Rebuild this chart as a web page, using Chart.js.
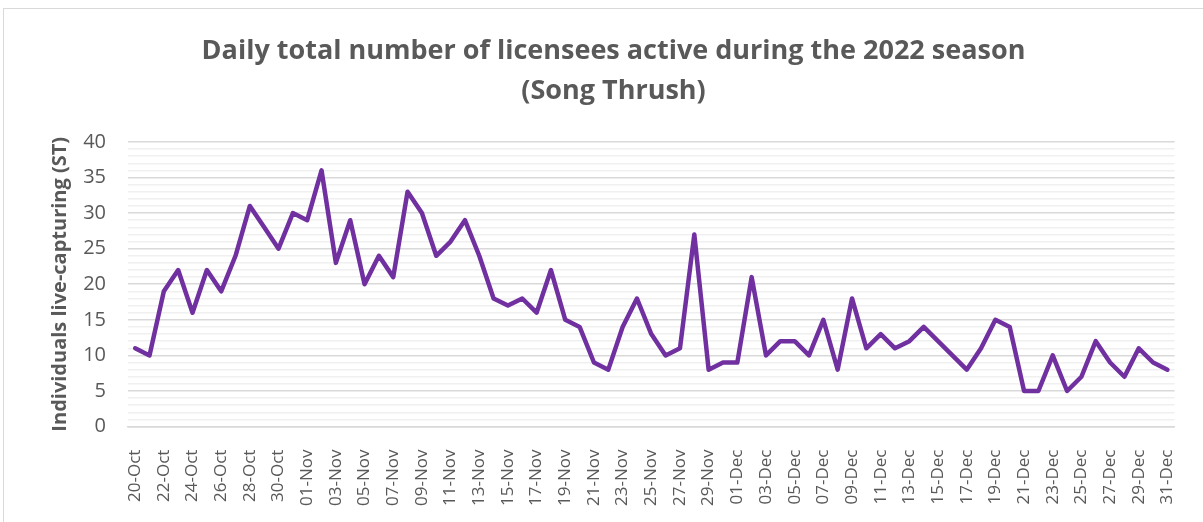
<!DOCTYPE html>
<html>
<head>
<meta charset="utf-8">
<script src="https://cdn.jsdelivr.net/npm/chart.js"></script>
<style>
  html, body { margin: 0; padding: 0; background: #fff; overflow: hidden; }
  #frame { position: absolute; left: 3px; top: 8px; width: 1230px; height: 560px; border: 1px solid #d9d9d9; }
  #wrap { position: absolute; left: 0; top: 0; width: 1203px; height: 522px; }
</style>
</head>
<body>
<div id="frame"></div>
<div id="wrap"><canvas id="thrushChart"></canvas></div>
<script>
// daily licensees live-capturing song thrush, 20 Oct - 31 Dec 2022
var dayLabels = [
  '20-Oct','21-Oct','22-Oct','23-Oct','24-Oct','25-Oct','26-Oct','27-Oct','28-Oct','29-Oct','30-Oct','31-Oct',
  '01-Nov','02-Nov','03-Nov','04-Nov','05-Nov','06-Nov','07-Nov','08-Nov','09-Nov','10-Nov',
  '11-Nov','12-Nov','13-Nov','14-Nov','15-Nov','16-Nov','17-Nov','18-Nov','19-Nov','20-Nov',
  '21-Nov','22-Nov','23-Nov','24-Nov','25-Nov','26-Nov','27-Nov','28-Nov','29-Nov','30-Nov',
  '01-Dec','02-Dec','03-Dec','04-Dec','05-Dec','06-Dec','07-Dec','08-Dec','09-Dec','10-Dec',
  '11-Dec','12-Dec','13-Dec','14-Dec','15-Dec','16-Dec','17-Dec','18-Dec','19-Dec','20-Dec',
  '21-Dec','22-Dec','23-Dec','24-Dec','25-Dec','26-Dec','27-Dec','28-Dec','29-Dec','30-Dec','31-Dec'
];
var octValues = [11, 10, 19, 22, 16, 22, 19, 24, 31, 28, 25, 30];
var novValues = [29, 36, 23, 29, 20, 24, 21, 33, 30, 24, 26, 29, 24, 18, 17, 18, 16, 22, 15, 14,
                 9, 8, 14, 18, 13, 10, 11, 27, 8, 9];
var decValues = [9, 21, 10, 12, 12, 10, 15, 8, 18, 11, 13, 11, 12, 14, 12, 10, 8, 11, 15, 14,
                 5, 5, 10, 5, 7, 12, 9, 7, 11, 9, 8];
var yTicks = [0, 5, 10, 15, 20, 25, 30, 35, 40];

var activeCounts = octValues.concat(novValues, decValues);
var txt = '#595959';

var ctx = document.getElementById('thrushChart').getContext('2d');
var thrushChart = new Chart(ctx, {
    type: 'line',
    data: {
        labels: dayLabels,
        datasets: [{
            data: activeCounts,
            borderColor: '#7030A0',
            borderWidth: 4.5,
            pointRadius: 0,
            borderJoinStyle: 'round',
            borderCapStyle: 'round',
            tension: 0,
            fill: false
        }]
    },
    options: {
        responsive: true,
        maintainAspectRatio: false,
        animation: false,
        layout: { padding: { left: 48, right: 24, top: 0, bottom: 1 } },
        plugins: {
            legend: { display: false },
            tooltip: { enabled: false },
            title: {
                display: true,
                text: ['Daily total number of licensees active during the 2022 season', '(Song Thrush)'],
                color: txt,
                font: { family: 'Open Sans', size: 27, weight: 'bold', lineHeight: 1.48 },
                padding: { top: 31, bottom: 31 }
            }
        },
        scales: {
            x: {
                offset: true,
                grid: { display: false },
                border: { display: true, color: '#d9d9d9', width: 1.5 },
                ticks: {
                    autoSkip: false,
                    maxRotation: 90,
                    minRotation: 90,
                    padding: 15,
                    color: txt,
                    font: { family: 'Open Sans', size: 17 },
                    callback: function(v, i) { return i % 2 === 0 ? dayLabels[i] : ''; }
                }
            },
            y: {
                min: 0,
                max: 40,
                border: { display: false },
                afterFit: function(scale) { scale.width = 80; },
                grid: {
                    drawTicks: false,
                    lineWidth: 1.5,
                    color: function(c) { return c.tick.value % 5 === 0 ? '#d9d9d9' : '#f0f0f0'; }
                },
                title: {
                    display: true,
                    text: 'Individuals live-capturing (ST)',
                    color: txt,
                    font: { family: 'Open Sans', size: 20, weight: 'bold' },
                    padding: 0
                },
                ticks: {
                    stepSize: 1,
                    autoSkip: false,
                    padding: 22,
                    color: txt,
                    font: { family: 'Open Sans', size: 20 },
                    callback: function(v) { return yTicks.indexOf(v) >= 0 ? v : ''; }
                }
            }
        }
    }
});
</script>
</body>
</html>
